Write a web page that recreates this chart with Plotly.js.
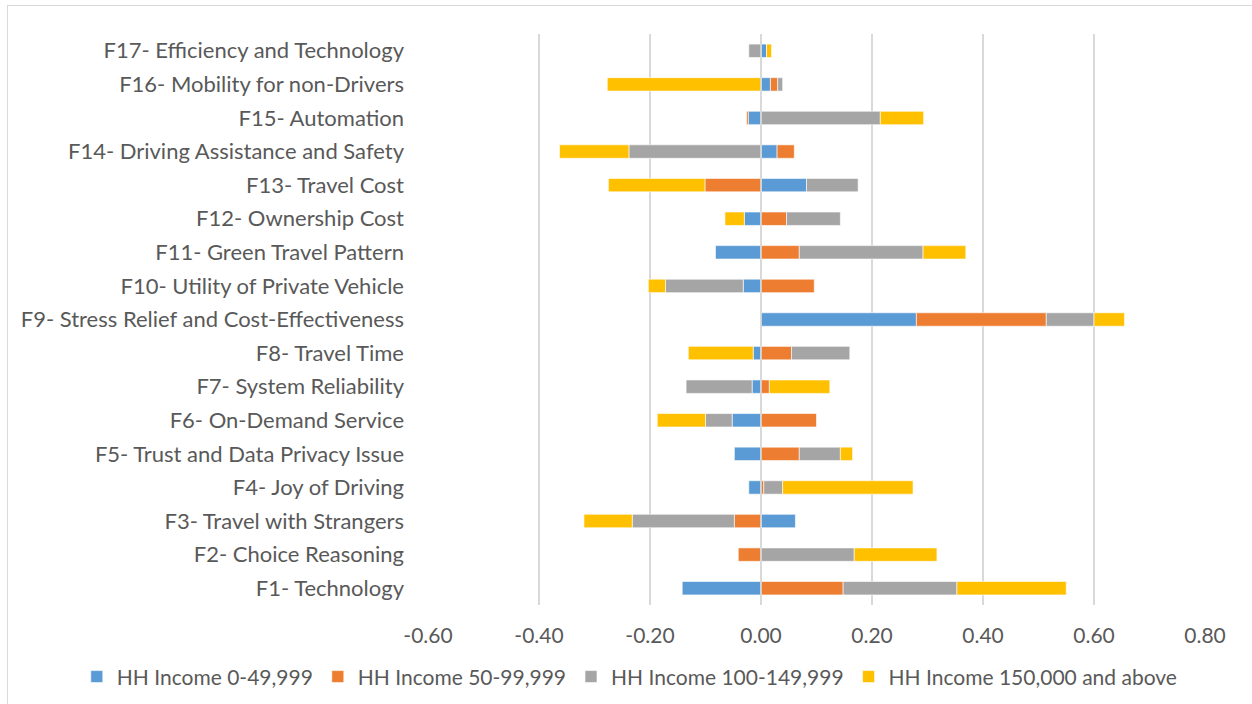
<!DOCTYPE html>
<html>
<head>
<meta charset="utf-8">
<script src="https://cdn.plot.ly/plotly-3.0.1.min.js"></script>
<style>
  html, body { margin: 0; padding: 0; background: #ffffff; }
  #frame { position: absolute; left: 7px; top: 5px; width: 1260px; height: 720px; border: 1px solid #d9d9d9; box-sizing: border-box; }
  #chart { position: absolute; left: 0; top: 0; width: 1252px; height: 704px; }
</style>
</head>
<body>
<div id="frame"></div>
<div id="chart"></div>
<script>
const categories = [
  "F1- Technology",
  "F2- Choice Reasoning",
  "F3- Travel with Strangers",
  "F4- Joy of Driving",
  "F5- Trust and Data Privacy Issue",
  "F6- On-Demand Service",
  "F7- System Reliability",
  "F8- Travel Time",
  "F9- Stress Relief and Cost-Effectiveness",
  "F10- Utility of Private Vehicle",
  "F11- Green Travel Pattern",
  "F12- Ownership Cost",
  "F13- Travel Cost",
  "F14- Driving Assistance and Safety",
  "F15- Automation",
  "F16- Mobility for non-Drivers",
  "F17- Efficiency and Technology"
];
const seriesNames = ["HH Income 0-49,999", "HH Income 50-99,999", "HH Income 100-149,999", "HH Income 150,000 and above"];
const income0to49 =    [-0.142, 0.000, 0.062, -0.022, -0.048, -0.052, -0.016, -0.014, 0.280, -0.032, -0.082, -0.030, 0.082, 0.029, -0.023, 0.017, 0.010];
const income50to99 =   [0.148, -0.041, -0.048, 0.005, 0.069, 0.100, 0.015, 0.055, 0.234, 0.096, 0.069, 0.046, -0.101, 0.031, -0.003, 0.013, 0.000];
const income100to149 = [0.205, 0.168, -0.184, 0.034, 0.074, -0.048, -0.119, 0.105, 0.086, -0.140, 0.223, 0.097, 0.093, -0.238, 0.215, 0.009, -0.022];
const income150plus =  [0.197, 0.149, -0.087, 0.235, 0.022, -0.087, 0.109, -0.117, 0.055, -0.031, 0.077, -0.035, -0.174, -0.125, 0.078, -0.277, 0.009];
const tickVals = [-0.6, -0.4, -0.2, 0, 0.2, 0.4, 0.6, 0.8];
const tickText = ["-0.60", "-0.40", "-0.20", "0.00", "0.20", "0.40", "0.60", "0.80"];

const colors = ["#5B9BD5", "#ED7D31", "#A5A5A5", "#FFC000"];
const allSeries = [income0to49, income50to99, income100to149, income150plus];

const traces = allSeries.map((vals, i) => ({
  type: "bar",
  orientation: "h",
  name: seriesNames[i],
  x: vals,
  y: categories,
  marker: { color: colors[i], line: { color: "rgba(255,255,255,0.6)", width: 1 } },
  hoverinfo: "x+y+name"
}));

const font = "Lato, 'Open Sans', sans-serif";
const layout = {
  width: 1252,
  height: 704,
  barmode: "relative",
  bargap: 0.6,
  paper_bgcolor: "rgba(0,0,0,0)",
  plot_bgcolor: "rgba(0,0,0,0)",
  margin: { l: 428, r: 47, t: 34, b: 99, autoexpand: false },
  font: { family: font, color: "#595959", size: 20 },
  showlegend: true,
  xaxis: {
    range: [-0.6, 0.8],
    tickvals: tickVals,
    ticktext: tickText,
    showgrid: true,
    gridcolor: "#d9d9d9",
    gridwidth: 1.5,
    zeroline: false,
    showline: false,
    ticks: "",
    ticklabelstandoff: 16,
    tickfont: { family: font, size: 21, color: "#595959" },
    fixedrange: true
  },
  yaxis: {
    type: "category",
    categoryorder: "array",
    categoryarray: categories,
    showgrid: false,
    zeroline: false,
    showline: false,
    ticks: "",
    ticklabelstandoff: 23,
    tickfont: { family: font, size: 22, color: "#595959" },
    fixedrange: true
  },
  shapes: [{
    type: "line", xref: "x", yref: "paper", x0: 0, x1: 0, y0: 0, y1: 1,
    line: { color: "#d9d9d9", width: 1.5 }, layer: "above"
  }],
  legend: {
    orientation: "h",
    x: -0.452, y: -0.126,
    xanchor: "left", yanchor: "middle",
    font: { family: font, size: 21, color: "#595959" },
    traceorder: "normal",
    itemwidth: 30
  }
};

Plotly.newPlot("chart", traces, layout, { displayModeBar: false, staticPlot: true });
</script>
</body>
</html>
